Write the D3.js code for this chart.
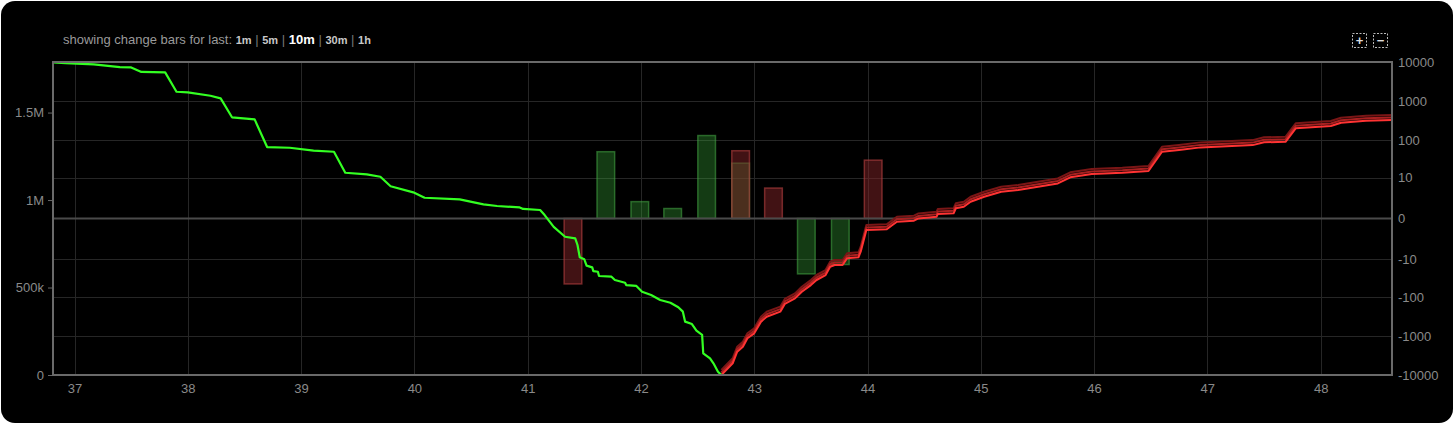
<!DOCTYPE html>
<html>
<head>
<meta charset="utf-8">
<script src="https://cdn.jsdelivr.net/npm/d3@7"></script>
<style>
  html, body { margin: 0; padding: 0; background: #fff; }
  svg { display: block; }
  text { font-family: "Liberation Sans", Arial, sans-serif; }
</style>
</head>
<body>
<svg id="chart" width="1456" height="426"></svg>
<script>
// ---------- data ----------
const xTicks = [37, 38, 39, 40, 41, 42, 43, 44, 45, 46, 47, 48];
const leftTicks = [0, 500000, 1000000, 1500000];
const leftTickLabels = ["0", "500k", "1M", "1.5M"];
const rightTicks = [-10000, -1000, -100, -10, 0, 10, 100, 1000, 10000];
const rightTickLabels = ["-10000", "-1000", "-100", "-10", "0", "10", "100", "1000", "10000"];
const periodLabels = ["1m", "5m", "10m", "30m", "1h"];
const activePeriod = "10m";

// bids (green) cumulative depth: [price, volume]
const bidPrice = [36.81, 36.92, 37.17, 37.40, 37.50, 37.59, 37.80, 37.90, 38.00, 38.20, 38.29, 38.39, 38.59, 38.70, 38.90, 39.11, 39.29, 39.39, 39.58, 39.70, 39.79, 39.99, 40.09, 40.40, 40.61, 40.73, 40.93, 40.96, 41.11, 41.15, 41.23, 41.33, 41.42, 41.44, 41.46, 41.50, 41.52, 41.57, 41.58, 41.62, 41.63, 41.74, 41.77, 41.86, 41.87, 41.96, 42.01, 42.09, 42.17, 42.26, 42.33, 42.37, 42.39, 42.45, 42.49, 42.54, 42.55, 42.61, 42.64, 42.68, 42.71];
const bidVolume = [1787000, 1783000, 1775000, 1760000, 1758000, 1732000, 1730000, 1619000, 1615000, 1596000, 1581000, 1473000, 1461000, 1303000, 1299000, 1282000, 1276000, 1156000, 1147000, 1133000, 1079000, 1044000, 1013000, 1004000, 975000, 966000, 958000, 949000, 943000, 914000, 847000, 790000, 781000, 743000, 673000, 661000, 625000, 615000, 594000, 590000, 566000, 562000, 543000, 527000, 514000, 509000, 476000, 457000, 429000, 413000, 387000, 362000, 305000, 291000, 253000, 229000, 124000, 95000, 67000, 19000, 0];

// asks (red) cumulative depth
const askPrice = [42.71, 42.81, 42.85, 42.90, 42.94, 43.00, 43.06, 43.11, 43.23, 43.27, 43.36, 43.42, 43.50, 43.55, 43.63, 43.67, 43.71, 43.78, 43.82, 43.92, 43.94, 43.99, 44.17, 44.22, 44.26, 44.41, 44.45, 44.61, 44.62, 44.76, 44.78, 44.85, 44.91, 45.03, 45.18, 45.33, 45.68, 45.79, 45.98, 46.25, 46.48, 46.60, 46.75, 46.94, 47.40, 47.50, 47.69, 47.78, 48.09, 48.18, 48.40, 48.63];
const askVolume = [0, 67000, 133000, 162000, 210000, 238000, 305000, 333000, 362000, 406000, 438000, 476000, 514000, 543000, 571000, 619000, 629000, 629000, 667000, 673000, 705000, 829000, 833000, 857000, 876000, 882000, 895000, 905000, 920000, 924000, 953000, 962000, 990000, 1019000, 1047000, 1057000, 1095000, 1130000, 1149000, 1156000, 1166000, 1276000, 1286000, 1301000, 1314000, 1330000, 1333000, 1410000, 1423000, 1442000, 1453000, 1457000];

// change bars (right axis, symlog)
const barPrice = [41.40, 41.69, 41.99, 42.28, 42.58, 42.88, 42.88, 43.17, 43.46, 43.76, 44.05];
const barChange = [-46, 50, 1.7, 0.8, 131, 25, 53, 5, -25, -14, 30];
const barSide = ["ask", "bid", "bid", "bid", "bid", "bid", "ask", "ask", "bid", "bid", "ask"];
const barHalfWidth = 0.078;

// ---------- layout ----------
const L = 53, T = 62, R = 1392, B = 375;
const svg = d3.select("#chart");

svg.append("rect").attr("x", 1).attr("y", 1).attr("width", 1452).attr("height", 422)
  .attr("rx", 14).attr("ry", 14).attr("fill", "#000");

const x = d3.scaleLinear().domain([36.81, 48.63]).range([L, R]);
const yL = d3.scaleLinear().domain([0, 1789000]).range([B, T]);
const yR = d3.scaleSymlog().constant(1).domain([-10000, 10000]).range([B, T]);

// grid
const grid = svg.append("g");
grid.selectAll("line.v").data(xTicks).join("line")
  .attr("x1", d => Math.round(x(d)) + 0.5).attr("x2", d => Math.round(x(d)) + 0.5)
  .attr("y1", T).attr("y2", B).attr("stroke", "#262626").attr("stroke-width", 1);
grid.selectAll("line.h").data(rightTicks.filter(d => d !== 0 && Math.abs(d) !== 10000)).join("line")
  .attr("x1", L).attr("x2", R)
  .attr("y1", d => Math.round(yR(d)) + 0.5).attr("y2", d => Math.round(yR(d)) + 0.5)
  .attr("stroke", "#262626").attr("stroke-width", 1);

// bars
const barColors = {
  bid: { fill: "rgba(60,180,60,0.33)", stroke: "rgba(70,170,70,0.55)" },
  ask: { fill: "rgba(130,35,40,0.5)", stroke: "rgba(170,60,60,0.65)" }
};
const bars = barPrice.map((p, i) => ({ p, v: barChange[i], s: barSide[i] }));
svg.append("g").selectAll("rect").data(bars).join("rect")
  .attr("x", d => x(d.p - barHalfWidth))
  .attr("width", d => x(d.p + barHalfWidth) - x(d.p - barHalfWidth))
  .attr("y", d => Math.min(yR(d.v), yR(0)))
  .attr("height", d => Math.abs(yR(d.v) - yR(0)))
  .attr("fill", d => barColors[d.s].fill)
  .attr("stroke", d => barColors[d.s].stroke)
  .attr("stroke-width", 1.5);

// zero line of change axis
svg.append("line").attr("x1", L).attr("x2", R)
  .attr("y1", yR(0)).attr("y2", yR(0))
  .attr("stroke", "#4a4a4a").attr("stroke-width", 2);

// depth lines
const line = d3.line().x(d => x(d[0])).y(d => yL(d[1]));
const bidData = bidPrice.map((p, i) => [p, bidVolume[i]]);
const askData = askPrice.map((p, i) => [p, askVolume[i]]);

svg.append("clipPath").attr("id", "plotclip").append("rect")
  .attr("x", L).attr("y", T - 2).attr("width", R - L).attr("height", B - T + 2);

const lines = svg.append("g").attr("clip-path", "url(#plotclip)");
lines.append("path").datum(askData).attr("d", line)
  .attr("fill", "none").attr("stroke", "#7a1616").attr("stroke-width", 2)
  .attr("transform", "translate(0,-5)").attr("stroke-linejoin", "round");
lines.append("path").datum(askData).attr("d", line)
  .attr("fill", "none").attr("stroke", "#a82020").attr("stroke-width", 2)
  .attr("transform", "translate(0,-2.5)").attr("stroke-linejoin", "round");
lines.append("path").datum(askData).attr("d", line)
  .attr("fill", "none").attr("stroke", "#ff3333").attr("stroke-width", 2)
  .attr("stroke-linejoin", "round");
lines.append("path").datum(bidData).attr("d", line)
  .attr("fill", "none").attr("stroke", "#33ff22").attr("stroke-width", 2.2)
  .attr("stroke-linejoin", "round");

// frame
svg.append("rect").attr("x", L).attr("y", T).attr("width", R - L).attr("height", B - T)
  .attr("fill", "none").attr("stroke", "#6a6a6a").attr("stroke-width", 2);

// axes
const axisColor = "#8a8a8a";
const gL = svg.append("g").attr("transform", `translate(${L - 1},0)`)
  .call(d3.axisLeft(yL).tickValues(leftTicks).tickFormat((d, i) => leftTickLabels[i]).tickSize(4).tickPadding(4));
const gR = svg.append("g").attr("transform", `translate(${R + 1},0)`)
  .call(d3.axisRight(yR).tickValues(rightTicks).tickFormat((d, i) => rightTickLabels[i]).tickSize(0).tickPadding(5));
const gB = svg.append("g").attr("transform", `translate(0,${B + 1})`)
  .call(d3.axisBottom(x).tickValues(xTicks).tickFormat(d3.format("d")).tickSize(0).tickPadding(8));
[gL, gR, gB].forEach(g => {
  g.select(".domain").remove();
  g.selectAll("line").attr("stroke", "#666");
  g.selectAll("text").attr("fill", axisColor).attr("font-size", 13)
    .attr("font-family", "'Liberation Sans', Arial, sans-serif");
});

// title
const title = svg.append("text").attr("x", 63).attr("y", 44)
  .attr("font-size", 13).attr("fill", "#9a9a9a");
title.append("tspan").text("showing change bars for last: ");
periodLabels.forEach((p, i) => {
  if (i > 0) title.append("tspan").attr("fill", "#777").attr("font-size", 13).attr("font-weight", "normal").text(" | ");
  title.append("tspan").attr("font-weight", "bold")
    .attr("fill", p === activePeriod ? "#fff" : "#c8c8c8")
    .attr("font-size", p === activePeriod ? 13 : 11).text(p);
});

// zoom buttons
const btns = [{ x: 1352, s: "+" }, { x: 1373, s: "\u2212" }];
const bg = svg.append("g");
btns.forEach(b => {
  bg.append("rect").attr("x", b.x + 0.5).attr("y", 33.5).attr("width", 14).attr("height", 14)
    .attr("fill", "none").attr("stroke", "#bbb").attr("stroke-dasharray", "2,1.5").attr("stroke-width", 1);
  bg.append("text").attr("x", b.x + 7.5).attr("y", 45).attr("text-anchor", "middle")
    .attr("font-size", 13).attr("font-weight", "bold").attr("fill", "#ddd").text(b.s);
});
</script>
</body>
</html>
